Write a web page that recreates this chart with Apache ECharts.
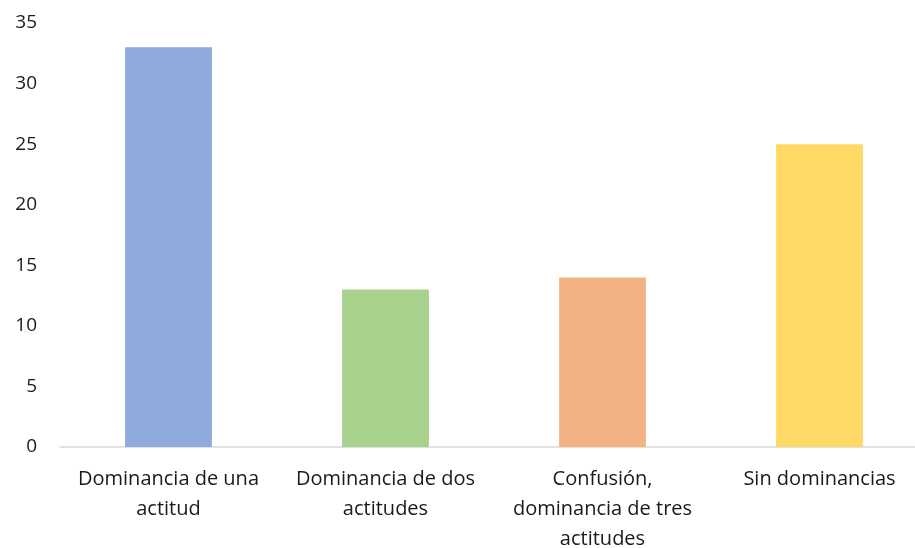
<!DOCTYPE html>
<html><head><meta charset="utf-8">
<script src="https://cdn.jsdelivr.net/npm/echarts@6/dist/echarts.min.js"></script>
<style>html,body{margin:0;padding:0;background:#fff}#c{width:915px;height:548px}</style>
</head><body><div id="c"></div>
<script>
const categories = ["Dominancia de una\nactitud", "Dominancia de dos\nactitudes", "Confusión,\ndominancia de tres\nactitudes", "Sin dominancias"];
const values = [33, 13, 14, 25];
const colors = ["#8FAADC", "#A9D18E", "#F4B183", "#FFD966"];
const chart = echarts.init(document.getElementById('c'));
chart.setOption({
  animation: false,
  grid: {left: 60, top: 23, width: 868, height: 424, containLabel: false, outerBoundsMode: 'none'},
  xAxis: {
    type: 'category', data: categories,
    axisLine: {lineStyle: {color: '#D9D9D9', width: 1.5}},
    axisTick: {show: false},
    axisLabel: {color: '#1a1a1a', fontFamily: 'Open Sans', fontSize: 20, lineHeight: 30, margin: 17, interval: 0}
  },
  yAxis: {
    type: 'value', min: 0, max: 35, interval: 5,
    splitLine: {show: false},
    axisLine: {show: false}, axisTick: {show: false},
    axisLabel: {color: '#1a1a1a', fontFamily: 'Open Sans', fontSize: 19, margin: 23}
  },
  series: [{
    type: 'bar', barWidth: '40%',
    data: values.map((v, i) => ({value: v, itemStyle: {color: colors[i]}}))
  }]
});
</script></body></html>
